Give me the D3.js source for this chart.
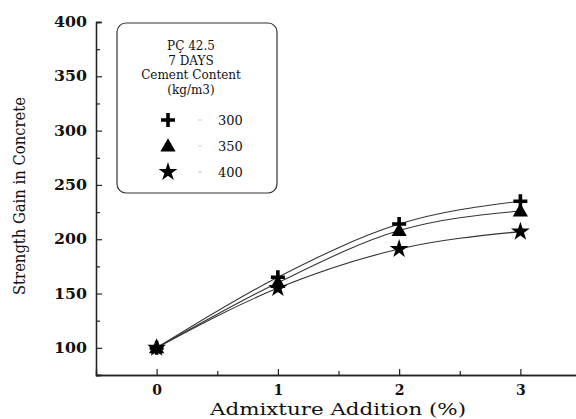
<!DOCTYPE html>
<html><head><meta charset="utf-8">
<script src="https://cdn.jsdelivr.net/npm/d3@7"></script>
<style>body{margin:0;background:#fff}svg{display:block}</style>
</head><body><div id="chart"></div>
<script>
const admixture = [0, 1, 2, 3];
const cement300 = [100, 165, 214, 235];
const cement350 = [100, 160, 208, 226];
const cement400 = [100, 155, 191, 207];
const seriesLabels = ["300", "350", "400"];
const legendTitle = ["PÇ 42.5", "7 DAYS", "Cement Content", "(kg/m3)"];
const yTicks = [100, 150, 200, 250, 300, 350, 400];
const xTicks = [0, 1, 2, 3];

const FONT = "'DejaVu Serif', 'Liberation Serif', 'Times New Roman', serif";
const W = 576, H = 419;
const svg = d3.select("#chart").append("svg").attr("width", W).attr("height", H);
const x = d3.scaleLinear().domain([-0.5, 3.5]).range([96, 581]);
const y = d3.scaleLinear().domain([75, 400]).range([375, 22]);

const col = "#222";
const xAxis = svg.append("g").attr("transform", `translate(0,${y(75)})`)
  .call(d3.axisBottom(x).tickValues(xTicks).tickSize(-6).tickPadding(10).tickFormat(d3.format("d")));
const yAxis = svg.append("g").attr("transform", `translate(${x(-0.5)},0)`)
  .call(d3.axisLeft(y).tickValues(yTicks).tickSize(-6).tickPadding(9));
svg.append("g").attr("transform", `translate(0,${y(75)})`)
  .call(d3.axisBottom(x).tickValues([0.5, 1.5, 2.5]).tickSize(-4).tickFormat(""));
svg.append("g").attr("transform", `translate(${x(-0.5)},0)`)
  .call(d3.axisLeft(y).tickValues([75, 125, 175, 225, 275, 325, 375]).tickSize(-4).tickFormat(""));
svg.selectAll("g").attr("font-family", null);
svg.selectAll(".domain").attr("stroke", col).attr("stroke-width", 1.3);
svg.selectAll(".tick line").attr("stroke", col).attr("stroke-width", 1.2);
xAxis.selectAll("text").attr("font-family", FONT).attr("font-size", 14).attr("font-weight", "bold").attr("fill", "#111");
yAxis.selectAll("text").attr("font-family", FONT).attr("font-size", 14).attr("font-weight", "bold").attr("fill", "#111").attr("textLength", 33).attr("lengthAdjust", "spacingAndGlyphs");

svg.append("text").attr("x", 338).attr("y", 415).attr("text-anchor", "middle").attr("font-family", FONT)
  .attr("font-size", 16).attr("fill", "#111").attr("textLength", 256).attr("lengthAdjust", "spacingAndGlyphs")
  .text("Admixture Addition (%)");
svg.append("text").attr("transform", "translate(25,196) rotate(-90)").attr("text-anchor", "middle")
  .attr("font-family", FONT).attr("font-size", 17).attr("fill", "#111")
  .attr("textLength", 198).attr("lengthAdjust", "spacingAndGlyphs")
  .text("Strength Gain in Concrete");

const series = [cement300, cement350, cement400];
const line = d3.line().x((d, i) => x(admixture[i])).y(d => y(d)).curve(d3.curveMonotoneX);
series.forEach(s => {
  svg.append("path").datum(s).attr("d", line).attr("fill", "none").attr("stroke", "#333").attr("stroke-width", 1.1);
});

const symbols = [
  null,
  d3.symbol().type(d3.symbolTriangle).size(100),
  d3.symbol().type(d3.symbolStar).size(110)
];
function plusPath(s){ return `M${-s},0H${s}M0,${-s}V${s}`; }
function drawMarker(g, k, cx, cy){
  if (k === 0) {
    g.append("path").attr("d", plusPath(7)).attr("transform", `translate(${cx},${cy})`)
      .attr("stroke", "#000").attr("stroke-width", 3.6).attr("fill", "none");
  } else {
    g.append("path").attr("d", symbols[k]()).attr("transform", `translate(${cx},${cy + (k===1?1:0)})`).attr("fill", "#000");
  }
}
const mg = svg.append("g");
series.forEach((s, k) => s.forEach((v, i) => drawMarker(mg, k, x(admixture[i]), y(v))));

const lg = svg.append("g");
lg.append("rect").attr("x", 117).attr("y", 23).attr("width", 160).attr("height", 170).attr("rx", 9)
  .attr("fill", "#fff").attr("stroke", "#333").attr("stroke-width", 1.2);
legendTitle.forEach((t, i) => lg.append("text").attr("x", 191).attr("y", 50 + i * 14.5)
  .attr("text-anchor", "middle").attr("font-family", FONT).attr("font-size", 12).attr("fill", "#111").text(t));
seriesLabels.forEach((t, k) => {
  const cy = 120 + k * 26;
  drawMarker(lg, k, 168, cy);
  lg.append("line").attr("x1", 198).attr("x2", 202).attr("y1", cy).attr("y2", cy).attr("stroke", "#ccc");
  lg.append("text").attr("x", 218).attr("y", cy + 5).attr("font-family", FONT).attr("font-size", 13)
    .attr("fill", "#111").text(t);
});
</script></body></html>
